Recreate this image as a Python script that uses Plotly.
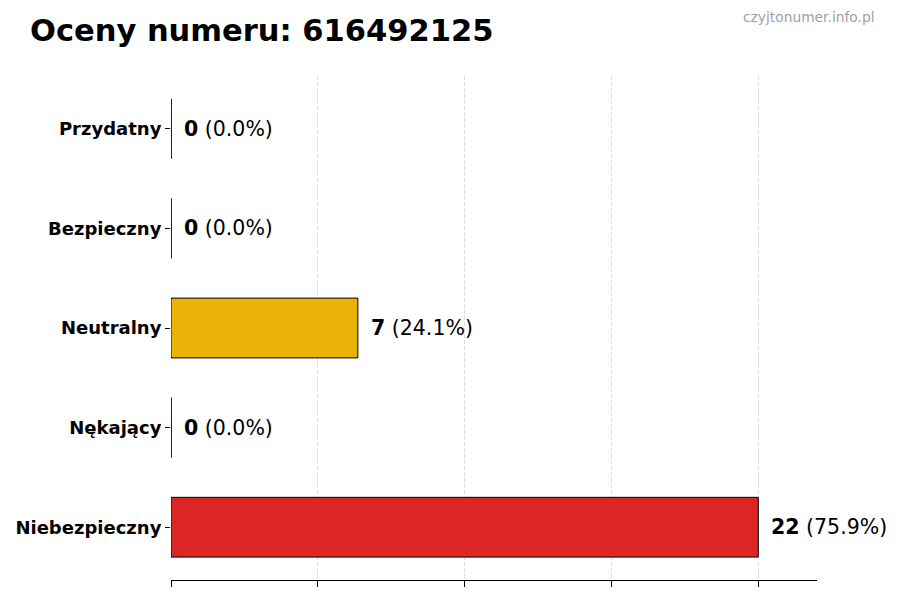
import plotly.graph_objects as go

categories = ["Przydatny", "Bezpieczny", "Neutralny", "Nękający", "Niebezpieczny"]
values = [0, 0, 7, 0, 22]
colors = ["#16A34A", "#2563EB", "#EAB308", "#F97316", "#DC2626"]
title_text = "Oceny numeru: 616492125"
watermark = "czyjtonumer.info.pl"

total = sum(values)
xmax = max(values) * 1.1
positions = list(range(len(categories)))

fig = go.Figure()
fig.add_trace(go.Bar(
    x=values, y=positions, orientation="h", width=0.6,
    marker=dict(color=colors, line=dict(color="black", width=1)),
    hoverinfo="skip", showlegend=False,
))

font = "DejaVu Sans"
shapes = []
annotations = []
for pos, v in zip(positions, values):
    if v == 0:
        shapes.append(dict(type="line", xref="x", yref="y", x0=0, x1=0,
                           y0=pos - 0.3, y1=pos + 0.3,
                           line=dict(color="black", width=1)))
    pct = 100 * v / total if total else 0
    annotations.append(dict(
        x=v, y=pos, xref="x", yref="y", xanchor="left", yanchor="middle",
        xshift=11, showarrow=False,
        text=f"<b>{v}</b> ({pct:.1f}%)",
        font=dict(family=font, size=20.5, color="black"),
    ))

annotations += [
    dict(x=0.0, y=1.0, xref="paper", yref="paper", xshift=-143, yshift=46,
         xanchor="left", yanchor="middle", showarrow=False,
         text=f"<b>{title_text}</b>",
         font=dict(family=font, size=30.5, color="black")),
    dict(x=1.0, y=1.0, xref="paper", yref="paper", xshift=60, yshift=59,
         xanchor="right", yanchor="middle", showarrow=False,
         text=watermark, font=dict(family=font, size=13.8, color="#a0a0a0")),
]

fig.update_layout(
    width=900, height=600,
    margin=dict(l=163, r=91, t=68, b=28, autoexpand=False),
    paper_bgcolor="white", plot_bgcolor="white",
    shapes=shapes,
    annotations=annotations,
    xaxis=dict(
        range=[0, xmax], tickvals=[max(values) * k / 4 for k in range(5)],
        showticklabels=False, ticks="outside", ticklen=6, tickcolor="black",
        showgrid=True, gridcolor="#dddddd", griddash="4px,2px", gridwidth=1,
        showline=True, linecolor="black", linewidth=1, zeroline=False,
        automargin=False,
    ),
    yaxis=dict(
        range=[len(categories) - 0.47, -0.53], tickvals=positions, ticktext=categories,
        ticks="outside", ticklen=5, tickcolor="black",
        tickfont=dict(family=font, size=18, color="black", weight="bold"),
        showgrid=False, showline=False, zeroline=False, automargin=False,
    ),
)
fig.write_html("out.html")
